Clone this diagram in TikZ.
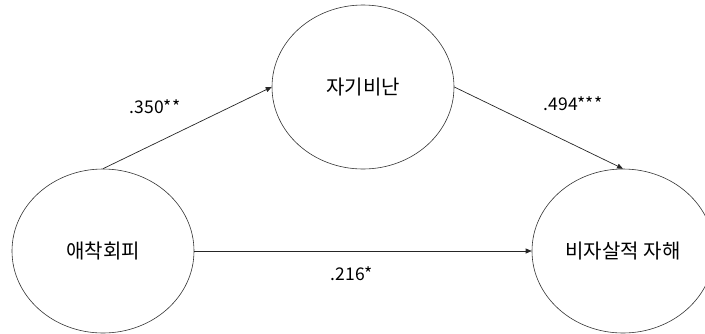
\documentclass[tikz,border=0pt]{standalone}
\usepackage{fontspec}
\setmainfont{Noto Sans CJK KR}
\usetikzlibrary{shapes.geometric,arrows.meta}
\begin{document}
\begin{tikzpicture}[x=1pt,y=-1pt,
  var/.style={draw=black!80, line width=0.6pt, ellipse, minimum width=182pt, minimum height=164pt, inner sep=0pt, font=\fontsize{20}{22}\selectfont},
  path/.style={draw=black!85, line width=0.7pt, -{Triangle[length=6pt,width=5pt]}},
  coef/.style={font=\fontsize{17.5}{20}\selectfont}]
\useasboundingbox (0,0) rectangle (705,333);
\clip (0,0) rectangle (705,333);
\node[var] (L) at (103,251) {애착회피};
\node[var] (T) at (363,87) {자기비난};
\node[var] (R) at (623,251) {비자살적 자해};
\draw[path] (L.north) -- (T.west);
\draw[path] (T.east) -- (R.north);
\draw[path] (L.east) -- (R.west);
\node[coef] (c1) at (155,107) {.350**};
\node[coef] (c2) at (573,104) {.494***};
\node[coef] (c3) at (352,274) {.216*};
\end{tikzpicture}
\end{document}
